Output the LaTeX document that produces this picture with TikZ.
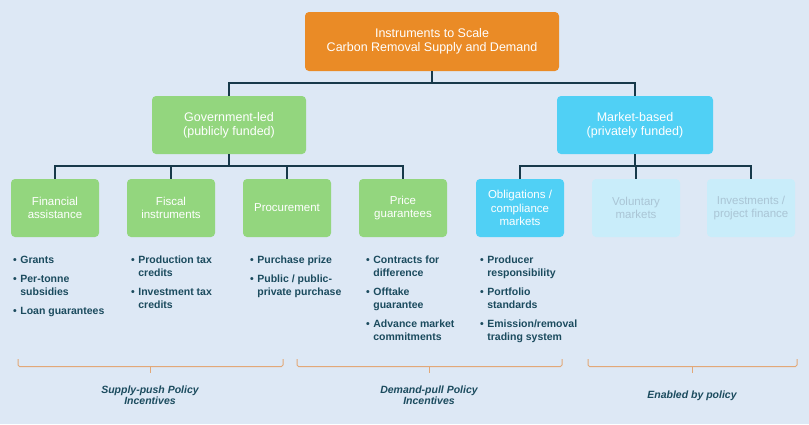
\documentclass[tikz,border=0pt]{standalone}
\usepackage{fontspec}
\setmainfont{Liberation Sans}
\definecolor{bgblue}{HTML}{DDE8F5}
\definecolor{topor}{HTML}{EA8B26}
\definecolor{govgreen}{HTML}{93D67E}
\definecolor{mktblue}{HTML}{50D0F5}
\definecolor{fadeblue}{HTML}{C9EDFA}
\definecolor{fadetext}{HTML}{AAC5D5}
\definecolor{connline}{HTML}{17394A}
\definecolor{bracecol}{HTML}{E2A878}
\definecolor{listtext}{HTML}{1B4B5E}
\newcommand{\bitems}[1]{{\fontsize{10.5}{13}\selectfont\bfseries
  \begin{tabular}{@{}l@{\hspace{3.5pt}}l@{}}#1\end{tabular}}}
\tikzset{
  box/.style={rectangle,rounded corners=4pt,minimum width=88pt,minimum height=58pt,
    text=white,align=center,inner sep=2pt,font=\fontsize{11.5}{13.5}\selectfont},
  conn/.style={draw=connline,line width=1.6pt},
  blist/.style={anchor=north west,inner sep=0pt,text=listtext},
  brc/.style={draw=bracecol,line width=1pt,rounded corners=1.5pt},
  blabel/.style={text=listtext,align=center,font=\fontsize{10.5}{11}\selectfont\bfseries\itshape}
}
\begin{document}
\begin{tikzpicture}[x=1pt,y=-1pt]
	\fill[bgblue] (0,0) rectangle (809,424);
	\useasboundingbox (0,0) rectangle (809,424);
	% top and second level
	\node[box,fill=topor,minimum width=254pt,minimum height=59pt,font=\fontsize{12.5}{14}\selectfont] (top) at (432,41.5) {Instruments to Scale\\Carbon Removal Supply and Demand};
	\node[box,fill=govgreen,minimum width=154pt,minimum height=58pt,font=\fontsize{12.5}{14}\selectfont] (gov) at (229,125) {Government-led\\(publicly funded)};
	\node[box,fill=mktblue,minimum width=156pt,minimum height=58pt,font=\fontsize{12.5}{14}\selectfont] (mkt) at (635,125) {Market-based\\(privately funded)};
	\coordinate (tj) at (432,83);
	\draw[conn] (top.south)--(tj);
	\draw[conn] (tj)-|(gov.north);
	\draw[conn] (tj)-|(mkt.north);
	% instruments
	\node[box,fill=govgreen] (fin) at (55,208) {Financial\\assistance};
	\node[box,fill=govgreen] (fis) at (171,208) {Fiscal\\instruments};
	\node[box,fill=govgreen] (proc) at (287,208) {Procurement};
	\node[box,fill=govgreen] (price) at (403,208) {Price\\guarantees};
	\node[box,fill=mktblue] (oblig) at (520,208) {Obligations /\\compliance\\markets};
	\node[box,fill=fadeblue,text=fadetext] (vol) at (636,208) {Voluntary\\markets};
	\node[box,fill=fadeblue,text=fadetext] (inv) at (751,208) {Investments /\\project finance};
	\foreach \c in {fin,fis,proc,price}
		\draw[conn] (gov.south)--++(0,12)-|(\c.north);
	\foreach \c in {oblig,vol,inv}
		\draw[conn] (mkt.south)--++(0,12)-|(\c.north);
	% bullet lists
	\node[blist] (finlist) at (13,254) {\bitems{\textbullet&Grants\\[6pt]\textbullet&Per-tonne\\&subsidies\\[6pt]\textbullet&Loan guarantees}};
	\node[blist] (fislist) at (131,254) {\bitems{\textbullet&Production tax\\&credits\\[6pt]\textbullet&Investment tax\\&credits}};
	\node[blist] (proclist) at (250,254) {\bitems{\textbullet&Purchase prize\\[6pt]\textbullet&Public / public-\\&private purchase}};
	\node[blist] (pricelist) at (366,254) {\bitems{\textbullet&Contracts for\\&difference\\[6pt]\textbullet&Offtake\\&guarantee\\[6pt]\textbullet&Advance market\\&commitments}};
	\node[blist] (obliglist) at (480,254) {\bitems{\textbullet&Producer\\&responsibility\\[6pt]\textbullet&Portfolio\\&standards\\[6pt]\textbullet&Emission/removal\\&trading system}};
	% braces
	\draw[brc] (18,359)--(18,366.5)--(283,366.5)--(283,359);
	\draw[brc] (150,366.5)--(150,373);
	\draw[brc] (297,359)--(297,366.5)--(562,366.5)--(562,359);
	\draw[brc] (429,366.5)--(429,373);
	\draw[brc] (588,359)--(588,366.5)--(797,366.5)--(797,359);
	\draw[brc] (692,366.5)--(692,373);
	\node[blabel] (push) at (150,395.5) {Supply-push Policy\\Incentives};
	\node[blabel] (pull) at (429,395.5) {Demand-pull Policy\\Incentives};
	\node[blabel] (enab) at (692,396) {Enabled by policy};
\end{tikzpicture}
\end{document}
